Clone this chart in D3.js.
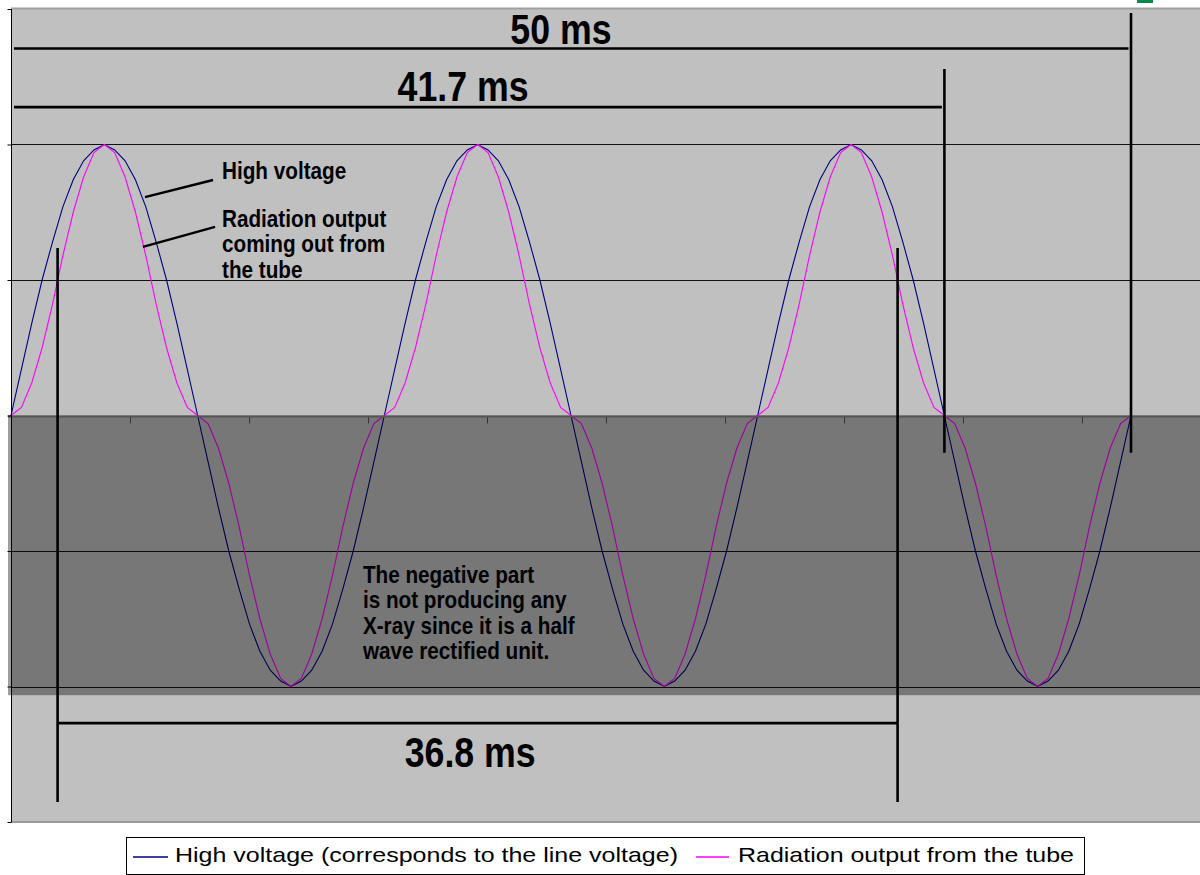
<!DOCTYPE html>
<html>
<head>
<meta charset="utf-8">
<script src="https://cdn.jsdelivr.net/npm/d3@7"></script>
<style>
  body { margin: 0; background: #fff; }
  svg { display: block; font-family: 'Liberation Sans', Arial, sans-serif; }
</style>
</head>
<body>
<svg width="1200" height="875"></svg>
<script>
// samples every 10 degrees over three cycles (0..1080 deg = 0..50 ms)
let highVoltage = [
  0, 0.17, 0.34, 0.5, 0.64, 0.77, 0.87, 0.94, 0.98, 1, 0.98, 0.94, 0.87, 0.77, 0.64, 0.5, 0.34, 0.17,
  0, -0.17, -0.34, -0.5, -0.64, -0.77, -0.87, -0.94, -0.98, -1, -0.98, -0.94, -0.87, -0.77, -0.64, -0.5, -0.34, -0.17,
  0, 0.17, 0.34, 0.5, 0.64, 0.77, 0.87, 0.94, 0.98, 1, 0.98, 0.94, 0.87, 0.77, 0.64, 0.5, 0.34, 0.17,
  0, -0.17, -0.34, -0.5, -0.64, -0.77, -0.87, -0.94, -0.98, -1, -0.98, -0.94, -0.87, -0.77, -0.64, -0.5, -0.34, -0.17,
  0, 0.17, 0.34, 0.5, 0.64, 0.77, 0.87, 0.94, 0.98, 1, 0.98, 0.94, 0.87, 0.77, 0.64, 0.5, 0.34, 0.17,
  0, -0.17, -0.34, -0.5, -0.64, -0.77, -0.87, -0.94, -0.98, -1, -0.98, -0.94, -0.87, -0.77, -0.64, -0.5, -0.34, -0.17,
  0
];
let radiation = [
  0, 0.03, 0.12, 0.25, 0.41, 0.59, 0.75, 0.88, 0.97, 1, 0.97, 0.88, 0.75, 0.59, 0.41, 0.25, 0.12, 0.03,
  0, -0.03, -0.12, -0.25, -0.41, -0.59, -0.75, -0.88, -0.97, -1, -0.97, -0.88, -0.75, -0.59, -0.41, -0.25, -0.12, -0.03,
  0, 0.03, 0.12, 0.25, 0.41, 0.59, 0.75, 0.88, 0.97, 1, 0.97, 0.88, 0.75, 0.59, 0.41, 0.25, 0.12, 0.03,
  0, -0.03, -0.12, -0.25, -0.41, -0.59, -0.75, -0.88, -0.97, -1, -0.97, -0.88, -0.75, -0.59, -0.41, -0.25, -0.12, -0.03,
  0, 0.03, 0.12, 0.25, 0.41, 0.59, 0.75, 0.88, 0.97, 1, 0.97, 0.88, 0.75, 0.59, 0.41, 0.25, 0.12, 0.03,
  0, -0.03, -0.12, -0.25, -0.41, -0.59, -0.75, -0.88, -0.97, -1, -0.97, -0.88, -0.75, -0.59, -0.41, -0.25, -0.12, -0.03,
  0
];
let totalMs = 50;

let yTicks = [-1.5, -1, -0.5, 0, 0.5, 1, 1.5];
let gridValues = [-1, -0.5, 0.5, 1];
let xTicksMs = [5.31, 10.63, 15.94, 21.25, 26.56, 31.88, 37.19, 42.5, 47.81, 53.13];

let seriesNames = ['High voltage (corresponds to the line voltage)', 'Radiation output from the tube'];
let seriesColors = ['#000080', '#ff00ff'];

// period markers: horizontal span with label, vertical end marker
let spans = [
  { label: '50 ms', end: 50, level: 1.354, top: 1.485, bottom: -0.137, labelAt: 24.55, labelLevel: 1.372 },
  { label: '41.7 ms', end: 41.67, level: 1.138, top: 1.279, bottom: -0.137, labelAt: 20.18, labelLevel: 1.162 }
];
// radiation at 50% between these two times
let pulse = { label: '36.8 ms', t0: 2.08, t1: 39.58, level: -1.135, top: 0.618, bottom: -1.426, labelAt: 20.5, labelLevel: -1.297 };

let notes = [
  { at: 9.42, lines: ['High voltage'], level: 0.871 },
  { at: 9.42, lines: ['Radiation output', 'coming out from', 'the tube'], level: 0.696 },
  { at: 15.71, lines: ['The negative part', 'is not producing any', 'X-ray since it is a half', 'wave rectified unit.'], level: -0.618 }
];
let pointers = [
  { from: [9.02, 0.869], to: [5.98, 0.806] },
  { from: [9.11, 0.696], to: [5.89, 0.622] }
];

let width = 1200;
let height = 875;
let plotLeft = 11, plotTop = 9, plotBottom = 822;

let svg = d3.select('svg');

let x = d3.scaleLinear().domain([0, totalMs]).range([plotLeft, 1131]);
let y = d3.scaleLinear().domain([-1.5, 1.5]).range([plotBottom, plotTop]);
let stepMs = totalMs / (highVoltage.length - 1);

// plot area
svg.append('rect')
  .attr('x', plotLeft).attr('y', plotTop)
  .attr('width', width - plotLeft).attr('height', plotBottom - plotTop)
  .attr('fill', '#c0c0c0');
svg.append('line')
  .attr('x1', plotLeft).attr('x2', width).attr('y1', plotTop - 0.5).attr('y2', plotTop - 0.5)
  .attr('stroke', '#a0a0a0').attr('stroke-width', 2);
svg.append('line')
  .attr('x1', plotLeft).attr('x2', width).attr('y1', plotBottom).attr('y2', plotBottom)
  .attr('stroke', '#9a9a9a').attr('stroke-width', 2);

// gridlines
svg.selectAll('line.grid')
  .data(gridValues)
  .enter()
  .append('line')
  .attr('class', 'grid')
  .attr('x1', plotLeft).attr('x2', width)
  .attr('y1', (d) => Math.round(y(d)) + 0.5)
  .attr('y2', (d) => Math.round(y(d)) + 0.5)
  .attr('stroke', '#111')
  .attr('stroke-width', 1);

// series
let line = d3.line()
  .x((d, i) => x(i * stepMs))
  .y((d) => y(d));

[highVoltage, radiation].forEach((values, i) => {
  svg.append('path')
    .datum(values)
    .attr('d', line)
    .attr('fill', 'none')
    .attr('stroke', seriesColors[i])
    .attr('stroke-width', 1.1);
});

// dark band over the negative half
svg.append('rect')
  .attr('x', plotLeft - 3).attr('y', y(0))
  .attr('width', width - plotLeft + 3).attr('height', y(-1.032) - y(0))
  .attr('fill', '#000')
  .attr('fill-opacity', 0.38);

// x axis at zero
let xAxis = d3.axisBottom(x).tickValues(xTicksMs).tickSize(7).tickFormat('');
let gx = svg.append('g')
  .attr('transform', `translate(0,${Math.round(y(0)) + 0.5})`)
  .call(xAxis);
gx.select('.domain').remove();
gx.selectAll('line').attr('stroke', '#333');
svg.append('line')
  .attr('x1', plotLeft - 3).attr('x2', width)
  .attr('y1', Math.round(y(0)) + 0.5).attr('y2', Math.round(y(0)) + 0.5)
  .attr('stroke', '#555').attr('stroke-width', 2);

// y axis
let yAxis = d3.axisLeft(y).tickValues(yTicks).tickSize(4).tickFormat('');
let gy = svg.append('g')
  .attr('transform', `translate(${plotLeft + 0.5},0)`)
  .call(yAxis);
gy.select('.domain').attr('stroke', '#000').attr('d', `M0,${plotTop}V${plotBottom}`);
gy.selectAll('line').attr('stroke', '#000');

// period markers
let ann = svg.append('g').attr('stroke', '#000').attr('stroke-width', 2.6);
spans.forEach((s) => {
  ann.append('line')
    .attr('x1', x(0) + 3).attr('x2', x(s.end) - 2.5)
    .attr('y1', y(s.level)).attr('y2', y(s.level));
  ann.append('line')
    .attr('x1', x(s.end)).attr('x2', x(s.end))
    .attr('y1', y(s.top)).attr('y2', y(s.bottom));
});
[pulse.t0, pulse.t1].forEach((t) => {
  ann.append('line')
    .attr('x1', x(t)).attr('x2', x(t))
    .attr('y1', y(pulse.top)).attr('y2', y(pulse.bottom));
});
ann.append('line')
  .attr('x1', x(pulse.t0)).attr('x2', x(pulse.t1))
  .attr('y1', y(pulse.level)).attr('y2', y(pulse.level));

pointers.forEach((p) => {
  svg.append('line')
    .attr('x1', x(p.from[0])).attr('y1', y(p.from[1]))
    .attr('x2', x(p.to[0])).attr('y2', y(p.to[1]))
    .attr('stroke', '#000').attr('stroke-width', 2.4);
});

// big labels
spans.concat([pulse]).forEach((s) => {
  svg.append('text')
    .attr('transform', `translate(${x(s.labelAt)},${y(s.labelLevel)}) scale(0.85,1)`)
    .attr('text-anchor', 'middle')
    .attr('font-size', 42)
    .attr('font-weight', 'bold')
    .attr('fill', '#000')
    .text(s.label);
});

// notes
notes.forEach((n) => {
  let t = svg.append('text')
    .attr('transform', `translate(${x(n.at)},${y(n.level)}) scale(0.9,1)`)
    .attr('font-size', 23)
    .attr('font-weight', 'bold')
    .attr('fill', '#000');
  t.selectAll('tspan')
    .data(n.lines)
    .enter()
    .append('tspan')
    .attr('x', 0)
    .attr('y', (d, i) => i * 25.5)
    .text((d) => d);
});

// cut-off mark at top right
svg.append('rect')
  .attr('x', 1137).attr('y', 0).attr('width', 16).attr('height', 3)
  .attr('fill', '#0a8a4a');

// legend
let legend = svg.append('g');
legend.append('rect')
  .attr('x', 126.5).attr('y', 837.5).attr('width', 958).attr('height', 37)
  .attr('fill', '#fff').attr('stroke', '#000').attr('stroke-width', 1);
let legendItems = [
  { x0: 133, x1: 168, tx: 175, tw: 503 },
  { x0: 696, x1: 729, tx: 738, tw: 336 }
];
legendItems.forEach((item, i) => {
  legend.append('line')
    .attr('x1', item.x0).attr('x2', item.x1)
    .attr('y1', 857).attr('y2', 857)
    .attr('stroke', seriesColors[i]).attr('stroke-width', 1.5);
  legend.append('text')
    .attr('x', item.tx).attr('y', 862)
    .attr('font-size', 21)
    .attr('textLength', item.tw)
    .attr('lengthAdjust', 'spacingAndGlyphs')
    .attr('fill', '#000')
    .text(seriesNames[i]);
});
</script>
</body>
</html>
